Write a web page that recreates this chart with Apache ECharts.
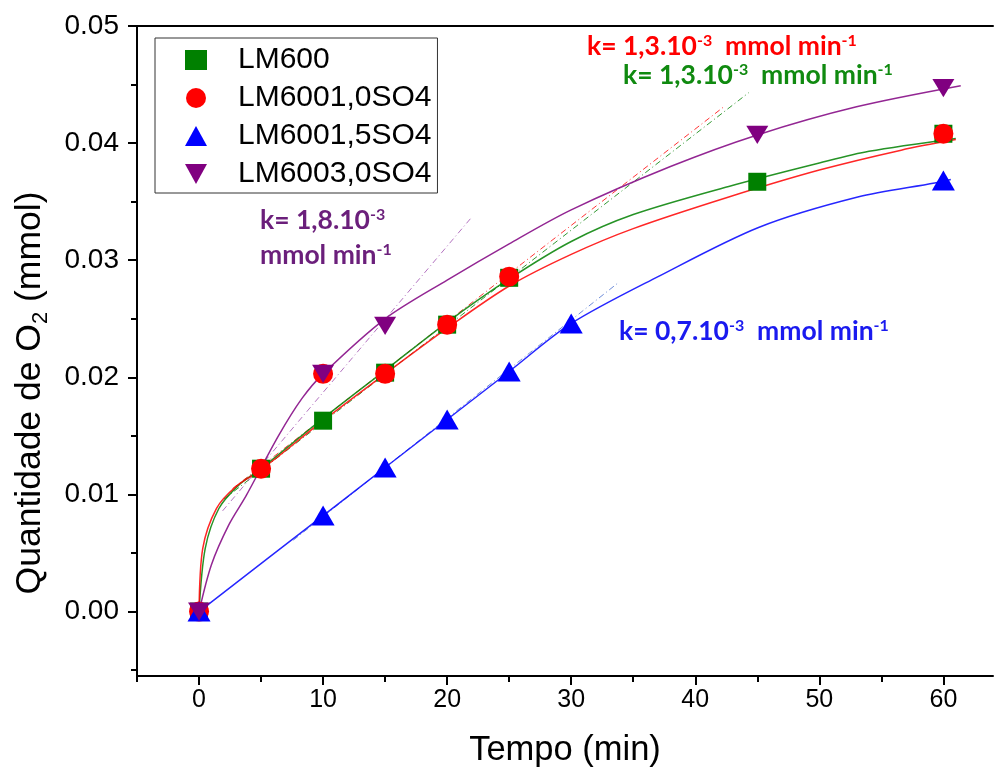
<!DOCTYPE html>
<html>
<head>
<meta charset="utf-8">
<script src="https://cdn.jsdelivr.net/npm/echarts@6/dist/echarts.min.js"></script>
<style>
html,body{margin:0;padding:0;background:#fff;}
#chart{width:995px;height:773px;}
</style>
</head>
<body>
<div id="chart"></div>
<script>
// ---- axis ticks ----
const xTickValues = [0, 10, 20, 30, 40, 50, 60];
const xMinorTickValues = [-5, 5, 15, 25, 35, 45, 55];
const yTickValues = [0, 0.01, 0.02, 0.03, 0.04, 0.05];
const yMinorTickValues = [-0.005, 0.005, 0.015, 0.025, 0.035, 0.045];

// ---- measured points ----
const seriesNames = ['LM600', 'LM6001,0SO4', 'LM6001,5SO4', 'LM6003,0SO4'];
const timeLM600 = [0, 5, 10, 15, 20, 25, 45, 60];
const valLM600 = [0, 0.0122, 0.0163, 0.0204, 0.0245, 0.0285, 0.0367, 0.0408];
const timeLM6001_0 = [0, 5, 10, 15, 20, 25, 60];
const valLM6001_0 = [0, 0.0122, 0.0203, 0.0203, 0.0245, 0.0286, 0.0408];
const timeLM6001_5 = [0, 10, 15, 20, 25, 30, 60];
const valLM6001_5 = [0, 0.0082, 0.0123, 0.0164, 0.0205, 0.0246, 0.0368];
const timeLM6003_0 = [0, 10, 15, 45, 60];
const valLM6003_0 = [0, 0.0203, 0.0244, 0.0407, 0.0447];

// ---- fitted curves ----
const fitLM600X = [0, 0.5, 1.6, 3.2, 5, 10, 15, 20, 25, 30, 35, 42.7, 50, 54, 61];
const fitLM600Y = [0, 0.0054, 0.0088, 0.0108, 0.0122, 0.0165, 0.0206, 0.0247, 0.0284, 0.0316, 0.0339, 0.0363, 0.0383, 0.0393, 0.0404];
const fitLM6001_0X = [0, 0.3, 1.4, 3, 5, 10, 15, 20, 25, 30, 35, 42.7, 50, 56.6, 61];
const fitLM6001_0Y = [0, 0.0054, 0.0088, 0.0107, 0.0121, 0.0163, 0.0203, 0.0242, 0.0278, 0.0305, 0.0327, 0.0354, 0.0377, 0.0394, 0.0403];
const fitLM6001_5X = [0, 10, 15, 20, 25, 30, 37, 45.1, 53.1, 59.3, 60.6];
const fitLM6001_5Y = [0, 0.0082, 0.0123, 0.0164, 0.0205, 0.0246, 0.0286, 0.0328, 0.0354, 0.0366, 0.0369];
const fitLM6003_0X = [0, 1, 2.4, 3.8, 6.4, 8.3, 10, 15, 20, 25, 30, 38, 45, 53, 61.4];
const fitLM6003_0Y = [0, 0.0040, 0.0074, 0.0099, 0.0150, 0.0182, 0.0203, 0.0250, 0.0283, 0.0314, 0.0343, 0.0380, 0.0407, 0.0431, 0.0449];

// ---- initial-rate tangent lines ----
const tanLM600X = [2, 44.3];
const tanLM600Y = [0.0096, 0.0443];
const tanLM6001_0X = [2.7, 42.3];
const tanLM6001_0Y = [0.0105, 0.0431];
const tanLM6001_5X = [7.6, 33.7];
const tanLM6001_5Y = [0.0061, 0.0280];
const tanLM6003_0X = [1.9, 22];
const tanLM6003_0Y = [0.0086, 0.0337];

const zip = (xs, ys) => xs.map((x, i) => [x, ys[i]]);

const COLORS = ['#008000', '#ff0000', '#0000ff', '#800080'];
const AX = 'Liberation Sans, Arial, sans-serif';

function markerSeries(name, xs, ys, symbol, size, color) {
  return {
    type: 'scatter', name, data: zip(xs, ys), symbol, symbolSize: size,
    symbolKeepAspect: true, itemStyle: { color, opacity: 1 }, z: 5
  };
}
function fitSeries(name, xs, ys, color) {
  return {
    type: 'line', name, data: zip(xs, ys), smooth: 0.3,
    showSymbol: false, symbol: 'none', lineStyle: { color, width: 1.5, opacity: 0.85 }, z: 3, silent: true
  };
}
function tanSeries(name, xs, ys, color) {
  return {
    type: 'line', name, data: zip(xs, ys), showSymbol: false, symbol: 'none',
    lineStyle: { color, width: 1, type: [6, 3, 1, 3], opacity: 0.8 }, z: 2, silent: true
  };
}

const chart = echarts.init(document.getElementById('chart'), null, { renderer: 'canvas' });

const axisLineStyle = { color: '#000', width: 2 };
const supStyle = (color) => ({ fontSize: 16, fontWeight: 'bold', fontFamily: 'Lato', fill: color, verticalAlign: 'top', lineHeight: 16 });

function kText(x, y, text, color) {
  return {
    type: 'text', x, y, z: 10,
    style: {
      text, fill: color, fontSize: 26.5, fontWeight: 'bold', fontFamily: 'Lato',
      rich: { s: supStyle(color) }
    }
  };
}

const option = {
  animation: false,
  backgroundColor: '#fff',
  grid: { left: 137, top: 26, right: 2, bottom: 96, containLabel: false },
  legend: {
    data: seriesNames,
    orient: 'vertical', left: 155, top: 38,
    padding: [7, 6, 4, 30], itemGap: 8, itemWidth: 22, itemHeight: 20,
    borderColor: '#333', borderWidth: 1,
    textStyle: { fontSize: 30, fontFamily: AX, color: '#000', padding: [0, 0, 0, 26] }
  },
  xAxis: [
    {
      type: 'value', min: -5, max: 64, position: 'bottom',
      axisLine: { show: true, onZero: false, lineStyle: axisLineStyle },
      axisTick: { show: true, inside: false, length: 9, customValues: xTickValues, lineStyle: axisLineStyle },
      axisLabel: { customValues: xTickValues, fontSize: 25, fontFamily: AX, color: '#000', margin: 12 },
      splitLine: { show: false },
      name: 'Tempo (min)', nameLocation: 'middle', nameGap: 57,
      nameTextStyle: { fontSize: 34.5, fontFamily: AX, color: '#000' }
    },
    {
      type: 'value', min: -5, max: 64, position: 'bottom',
      axisLine: { show: false, onZero: false },
      axisTick: { show: true, length: 6, customValues: xMinorTickValues, lineStyle: axisLineStyle },
      axisLabel: { show: false }, splitLine: { show: false }
    },
    {
      type: 'value', min: -5, max: 64, position: 'top',
      axisLine: { show: true, onZero: false, lineStyle: axisLineStyle },
      axisTick: { show: false }, axisLabel: { show: false }, splitLine: { show: false }
    }
  ],
  yAxis: [
    {
      type: 'value', min: -0.0055, max: 0.05, position: 'left',
      axisLine: { show: true, onZero: false, lineStyle: axisLineStyle },
      axisTick: { show: true, inside: false, length: 9, customValues: yTickValues, lineStyle: axisLineStyle },
      axisLabel: { customValues: yTickValues, fontSize: 28, fontFamily: AX, color: '#000', margin: 18,
        formatter: (v) => v.toFixed(2) },
      splitLine: { show: false }
    },
    {
      type: 'value', min: -0.0055, max: 0.05, position: 'left',
      axisLine: { show: false, onZero: false },
      axisTick: { show: true, length: 6, customValues: yMinorTickValues, lineStyle: axisLineStyle },
      axisLabel: { show: false }, splitLine: { show: false }
    }
  ],
  graphic: [
    {
      type: 'text', x: 30, y: 393, rotation: Math.PI / 2, z: 10,
      style: {
        text: 'Quantidade de O{b|2} (mmol)', fill: '#000', fontSize: 35.5, fontFamily: AX,
        align: 'center', verticalAlign: 'middle',
        rich: { b: { fontSize: 22, fontFamily: AX, fill: '#000', verticalAlign: 'bottom', lineHeight: 44 } }
      }
    },
    kText(587, 33, 'k= 1,3.10{s|-3}  mmol min{s|-1}', '#ff0000'),
    kText(623, 62, 'k= 1,3.10{s|-3}  mmol min{s|-1}', '#108a10'),
    kText(260, 207, 'k= 1,8.10{s|-3}', '#6b1f7b'),
    kText(260, 242, 'mmol min{s|-1}', '#6b1f7b'),
    kText(619, 318, 'k= 0,7.10{s|-3}  mmol min{s|-1}', '#1a1aef')
  ],
  series: [
    tanSeries('tan LM600', tanLM600X, tanLM600Y, COLORS[0]),
    tanSeries('tan LM6001,0SO4', tanLM6001_0X, tanLM6001_0Y, COLORS[1]),
    tanSeries('tan LM6001,5SO4', tanLM6001_5X, tanLM6001_5Y, '#4a6fd0'),
    tanSeries('tan LM6003,0SO4', tanLM6003_0X, tanLM6003_0Y, '#a050b0'),
    fitSeries('fit LM600', fitLM600X, fitLM600Y, COLORS[0]),
    fitSeries('fit LM6001,0SO4', fitLM6001_0X, fitLM6001_0Y, COLORS[1]),
    fitSeries('fit LM6001,5SO4', fitLM6001_5X, fitLM6001_5Y, COLORS[2]),
    fitSeries('fit LM6003,0SO4', fitLM6003_0X, fitLM6003_0Y, COLORS[3]),
    markerSeries(seriesNames[0], timeLM600, valLM600, 'rect', 18, COLORS[0]),
    markerSeries(seriesNames[1], timeLM6001_0, valLM6001_0, 'circle', 20, COLORS[1]),
    markerSeries(seriesNames[2], timeLM6001_5, valLM6001_5, 'triangle', [23, 20], COLORS[2]),
    markerSeries(seriesNames[3], timeLM6003_0, valLM6003_0, 'path://M0,0L22,0L11,20Z', [22, 20], COLORS[3])
  ]
};
chart.setOption(option);
</script>
</body>
</html>
